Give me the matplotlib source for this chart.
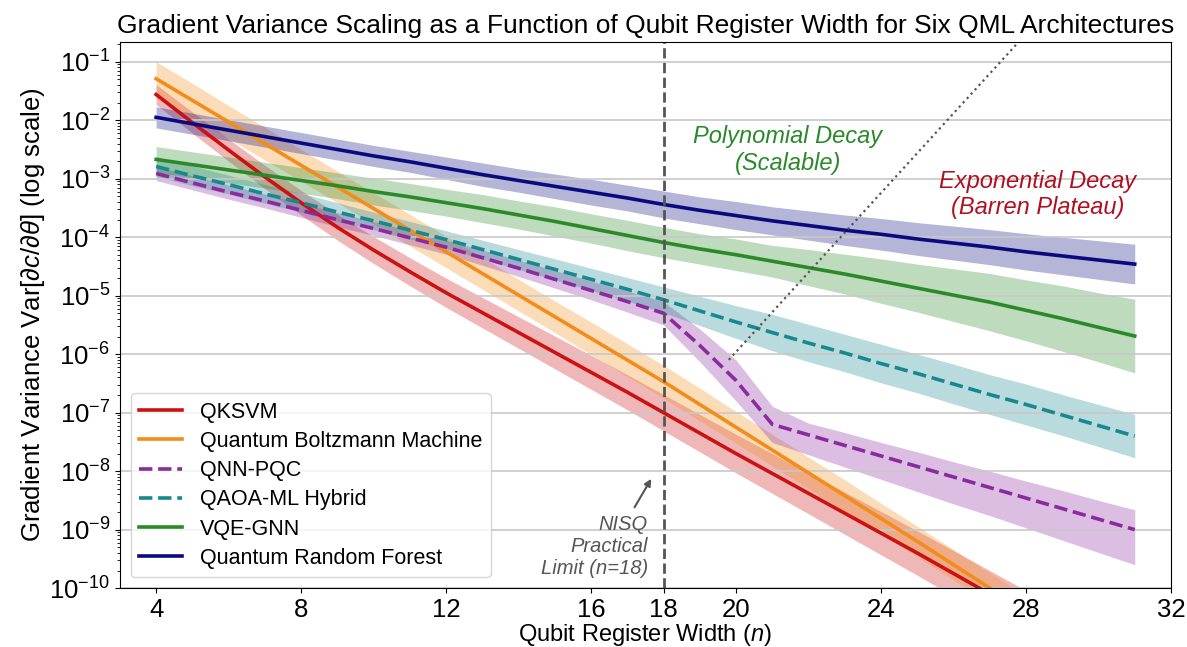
import numpy as np
import matplotlib
matplotlib.use("Agg")
import matplotlib.pyplot as plt
from matplotlib.ticker import LogLocator, NullFormatter

plt.rcParams['font.family'] = ['Liberation Sans', 'DejaVu Sans']
plt.rcParams['mathtext.fontset'] = 'custom'
plt.rcParams['mathtext.rm'] = 'Liberation Sans'
plt.rcParams['mathtext.it'] = 'Liberation Sans:italic'

# qubit register width
n = list(range(4, 32))

# log10 of gradient variance
qksvm = [-1.56, -2.04, -2.51, -2.97, -3.41, -3.83, -4.22, -4.59, -4.95, -5.29, -5.63, -5.97, -6.31, -6.65,
         -7.00, -7.35, -7.70, -8.04, -8.38, -8.72, -9.06, -9.40, -9.75, -10.10, -10.45, -10.80, -11.15, -11.50]
qbm = [-1.29, -1.66, -2.03, -2.40, -2.77, -3.14, -3.51, -3.88, -4.25, -4.62, -4.99, -5.36, -5.73, -6.10,
       -6.47, -6.86, -7.25, -7.64, -8.03, -8.42, -8.81, -9.20, -9.60, -10.00, -10.40, -10.80, -11.20, -11.60]
qnn = [-2.91, -3.07, -3.23, -3.38, -3.54, -3.70, -3.85, -4.01, -4.17, -4.35, -4.53, -4.72, -4.91, -5.10,
       -5.30, -5.85, -6.45, -7.20, -7.38, -7.56, -7.74, -7.92, -8.10, -8.28, -8.46, -8.64, -8.82, -9.00]
qaoa = [-2.79, -2.95, -3.10, -3.26, -3.41, -3.57, -3.72, -3.88, -4.04, -4.21, -4.38, -4.55, -4.72, -4.89,
        -5.07, -5.26, -5.45, -5.63, -5.81, -5.98, -6.16, -6.33, -6.51, -6.69, -6.86, -7.04, -7.22, -7.40]
vqe = [-2.67, -2.76, -2.85, -2.94, -3.03, -3.12, -3.22, -3.31, -3.41, -3.51, -3.62, -3.73, -3.85, -3.97,
       -4.09, -4.20, -4.30, -4.41, -4.52, -4.63, -4.75, -4.87, -4.99, -5.11, -5.25, -5.39, -5.54, -5.69]
qrf = [-1.95, -2.06, -2.17, -2.28, -2.39, -2.50, -2.61, -2.71, -2.82, -2.93, -3.03, -3.13, -3.23, -3.33,
       -3.44, -3.54, -3.63, -3.72, -3.80, -3.88, -3.95, -4.03, -4.10, -4.17, -4.25, -4.32, -4.39, -4.46]

# band half-widths (decades) below / above each curve
qksvm_sp = [0.17, 0.18, 0.19, 0.20, 0.21, 0.22, 0.23, 0.24, 0.25, 0.26, 0.27, 0.28, 0.29, 0.30,
            0.31, 0.32, 0.33, 0.34, 0.35, 0.36, 0.37, 0.38, 0.39, 0.40, 0.41, 0.42, 0.43, 0.44]
qbm_sp = [0.29, 0.29, 0.28, 0.28, 0.27, 0.27, 0.27, 0.27, 0.27, 0.27, 0.27, 0.27, 0.28, 0.28,
          0.28, 0.28, 0.27, 0.27, 0.27, 0.27, 0.26, 0.26, 0.26, 0.26, 0.26, 0.26, 0.26, 0.26]
qnn_lo = [0.12, 0.12, 0.12, 0.12, 0.12, 0.12, 0.12, 0.12, 0.12, 0.13, 0.14, 0.15, 0.16, 0.18,
          0.20, 0.28, 0.35, 0.31, 0.34, 0.37, 0.40, 0.43, 0.46, 0.48, 0.51, 0.54, 0.57, 0.60]
qnn_hi = [0.12, 0.12, 0.12, 0.12, 0.12, 0.12, 0.12, 0.12, 0.12, 0.13, 0.14, 0.15, 0.16, 0.18,
          0.20, 0.28, 0.35, 0.31, 0.20, 0.22, 0.23, 0.25, 0.26, 0.28, 0.29, 0.31, 0.32, 0.34]
qaoa_sp = [0.17, 0.17, 0.16, 0.16, 0.16, 0.16, 0.15, 0.15, 0.15, 0.16, 0.17, 0.18, 0.19, 0.20,
           0.22, 0.25, 0.28, 0.31, 0.32, 0.32, 0.33, 0.33, 0.34, 0.34, 0.35, 0.35, 0.36, 0.37]
vqe_sp = [0.22, 0.22, 0.22, 0.22, 0.22, 0.22, 0.23, 0.23, 0.23, 0.24, 0.24, 0.25, 0.25, 0.26,
          0.26, 0.26, 0.27, 0.27, 0.31, 0.34, 0.38, 0.41, 0.45, 0.49, 0.52, 0.56, 0.59, 0.63]
qrf_sp = [0.18, 0.18, 0.18, 0.18, 0.18, 0.18, 0.18, 0.18, 0.19, 0.20, 0.20, 0.21, 0.22, 0.22,
          0.23, 0.23, 0.24, 0.24, 0.25, 0.26, 0.27, 0.28, 0.29, 0.30, 0.31, 0.32, 0.33, 0.34]

series = [
    ('QKSVM', qksvm, qksvm_sp, qksvm_sp, '#cc1111', '-'),
    ('Quantum Boltzmann Machine', qbm, qbm_sp, qbm_sp, '#f28c1a', '-'),
    ('QNN-PQC', qnn, qnn_lo, qnn_hi, '#8a2a9e', '--'),
    ('QAOA-ML Hybrid', qaoa, qaoa_sp, qaoa_sp, '#17888f', '--'),
    ('VQE-GNN', vqe, vqe_sp, vqe_sp, '#2a8a2a', '-'),
    ('Quantum Random Forest', qrf, qrf_sp, qrf_sp, '#0a0a80', '-'),
]

fig, ax = plt.subplots(figsize=(11.87, 6.47), dpi=100)
fig.subplots_adjust(left=0.101, right=0.9865, top=0.9355, bottom=0.091)

x = np.array(n)
for name, mid, lo, hi, clr, ls in series:
    mid = np.array(mid)
    ax.fill_between(x, 10 ** (mid - np.array(lo)), 10 ** (mid + np.array(hi)),
                    color=clr, alpha=0.3, lw=0)
    ax.plot(x, 10 ** mid, color=clr, ls=ls, lw=2.6, label=name)

ax.set_yscale('log')
ax.set_xlim(3, 32)
ax.set_ylim(1e-10, 2.2e-1)
ax.yaxis.set_major_locator(LogLocator(base=10, numticks=20))
ax.yaxis.set_minor_locator(LogLocator(base=10, subs=np.arange(2, 10), numticks=200))
ax.yaxis.set_minor_formatter(NullFormatter())
ax.set_xticks([4, 8, 12, 16, 18, 20, 24, 28, 32])
ax.grid(True, axis='y', which='major', color='#c8c8c8', lw=1.2)
ax.tick_params(labelsize=18.5)

ax.axvline(18, color='#555555', ls='--', lw=2)
ax.plot([19.8, 28.0], [8e-7, 3e-1], color='#555555', ls=':', lw=1.6)

ax.text(17.57, 10 ** -9.29, 'NISQ\nPractical\nLimit (n=18)', ha='right', va='center',
        fontsize=14.5, style='italic', color='#555555', multialignment='right')
ax.annotate('', xy=(17.7, 10 ** -8.09), xytext=(17.16, 10 ** -8.66),
            arrowprops=dict(arrowstyle='-|>', color='#555555', lw=1.5))
ax.text(21.43, 10 ** -2.51, 'Polynomial Decay\n(Scalable)', ha='center', va='center',
        fontsize=17, style='italic', color='#2a8a2a')
ax.text(28.33, 10 ** -3.27, 'Exponential Decay\n(Barren Plateau)', ha='center', va='center',
        fontsize=17, style='italic', color='#b01020')

ax.set_title('Gradient Variance Scaling as a Function of Qubit Register Width for Six QML Architectures',
             fontsize=19)
ax.set_xlabel('Qubit Register Width ($n$)', fontsize=17, labelpad=0)
ax.set_ylabel(r'Gradient Variance Var[$\partial c/\partial\theta$] (log scale)', fontsize=18.5, labelpad=2)
ax.legend(loc='lower left', fontsize=15.5, handlelength=2, labelspacing=0.38)

plt.savefig('out.png', dpi=100)
